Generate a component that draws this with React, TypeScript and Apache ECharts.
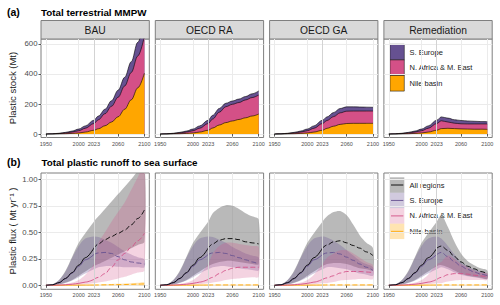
import React, { useEffect, useRef } from "react";
import * as echarts from "echarts";

const FONT = '"Liberation Sans", Arial, Helvetica, sans-serif';

const years = [1950, 1960, 1970, 1980, 1990, 2000, 2010, 2023, 2030, 2040, 2050, 2060, 2070, 2080, 2090, 2100];
const scenarios = ["BAU", "OECD RA", "OECD GA", "Remediation"];
const yearTicks = [1950, 2000, 2023, 2060, 2100];
const stockTicks = [0, 200, 400, 600];
const fluxTicks = [0, 0.25, 0.5, 0.75, 1.0];
const refYear = 2023;

// (a) terrestrial stock (Mt), thickness of each stacked layer, per scenario
const stockNile = [
  [0, 0.3, 1, 2, 4, 7, 13, 25, 35, 55, 80, 115, 165, 228, 308, 405],
  [0, 0.3, 1, 2, 4, 7, 13, 25, 40, 60, 76, 87, 97, 108, 120, 133],
  [0, 0.3, 1, 2, 4, 7, 13, 25, 38, 52, 64, 70, 71, 71, 71, 71],
  [0, 0.3, 1, 2, 4, 7, 13, 25, 36, 38, 36, 34, 33, 32, 32, 31],
];
const stockNAfrica = [
  [0, 0.7, 2, 5, 9, 15, 25, 45, 60, 80, 105, 130, 155, 182, 212, 245],
  [0, 0.7, 2, 5, 9, 15, 25, 45, 60, 85, 106, 111, 113, 119, 123, 127],
  [0, 0.7, 2, 5, 9, 15, 25, 45, 52, 64, 77, 82, 82, 82, 82, 82],
  [0, 0.7, 2, 5, 9, 15, 25, 45, 52, 42, 36, 34, 34, 35, 35, 36],
];
const stockSEurope = [
  [0, 0.5, 2, 4, 7, 11, 16, 22, 25, 30, 37, 47, 58, 72, 92, 100],
  [0, 0.5, 2, 4, 7, 11, 16, 22, 25, 25, 23, 22, 23, 23, 25, 27],
  [0, 0.5, 2, 4, 7, 11, 16, 22, 24, 27, 29, 29, 28, 27, 26, 25],
  [0, 0.5, 2, 4, 7, 11, 16, 22, 26, 26, 23, 22, 20, 18, 16, 15],
];

// (b) runoff flux (Mt/yr): historical part (1950-2023) + scenario part (2030-2100)
const allMeanHist = [0, 0.005, 0.025, 0.065, 0.12, 0.19, 0.26, 0.35];
const allHiHist = [0, 0.01, 0.05, 0.14, 0.27, 0.4, 0.49, 0.6];
const allLoHist = [0, 0, 0.008, 0.025, 0.05, 0.09, 0.13, 0.18];
const seuMeanHist = [0, 0.005, 0.024, 0.062, 0.115, 0.18, 0.24, 0.29];
const seuHiHist = [0, 0.01, 0.05, 0.13, 0.26, 0.37, 0.44, 0.46];
const seuLoHist = [0, 0, 0.007, 0.022, 0.045, 0.075, 0.11, 0.15];
const nameMeanHist = [0, 0, 0.002, 0.005, 0.01, 0.018, 0.03, 0.055];
const nameHiHist = [0, 0.001, 0.005, 0.012, 0.025, 0.05, 0.1, 0.2];
const nameLoHist = [0, 0, 0, 0.001, 0.003, 0.006, 0.01, 0.018];
const nileMeanHist = [0, 0, 0, 0.001, 0.001, 0.001, 0.002, 0.002];
const nileHiHist = [0, 0, 0.001, 0.002, 0.003, 0.004, 0.005, 0.007];
const nileLoHist = [0, 0, 0, 0, 0, 0, 0, 0];

const allMeanFut = [
  [0.39, 0.43, 0.46, 0.49, 0.52, 0.57, 0.63, 0.71],
  [0.39, 0.425, 0.44, 0.44, 0.43, 0.41, 0.4, 0.39],
  [0.38, 0.41, 0.42, 0.4, 0.375, 0.35, 0.315, 0.28],
  [0.37, 0.33, 0.27, 0.22, 0.18, 0.155, 0.13, 0.11],
];
const allHiFut = [
  [0.65, 0.72, 0.79, 0.86, 0.93, 1.0, 1.08, 1.16],
  [0.68, 0.73, 0.755, 0.75, 0.72, 0.68, 0.65, 0.62],
  [0.65, 0.69, 0.7, 0.66, 0.57, 0.47, 0.4, 0.35],
  [0.66, 0.55, 0.41, 0.3, 0.23, 0.19, 0.16, 0.14],
];
const allLoFut = [
  [0.2, 0.23, 0.26, 0.29, 0.32, 0.35, 0.38, 0.41],
  [0.2, 0.22, 0.23, 0.23, 0.22, 0.21, 0.2, 0.2],
  [0.2, 0.21, 0.21, 0.2, 0.18, 0.16, 0.15, 0.14],
  [0.19, 0.17, 0.14, 0.11, 0.09, 0.08, 0.07, 0.06],
];
const seuMeanFut = [
  [0.305, 0.31, 0.3, 0.27, 0.24, 0.22, 0.21, 0.2],
  [0.305, 0.31, 0.3, 0.28, 0.26, 0.24, 0.22, 0.2],
  [0.305, 0.31, 0.295, 0.265, 0.235, 0.2, 0.17, 0.14],
  [0.31, 0.27, 0.22, 0.18, 0.15, 0.125, 0.105, 0.09],
];
const seuHiFut = [
  [0.455, 0.43, 0.4, 0.36, 0.32, 0.29, 0.265, 0.245],
  [0.455, 0.43, 0.4, 0.36, 0.33, 0.3, 0.28, 0.26],
  [0.45, 0.42, 0.38, 0.33, 0.28, 0.23, 0.2, 0.17],
  [0.44, 0.37, 0.29, 0.22, 0.18, 0.15, 0.13, 0.11],
];
const seuLoFut = [
  [0.17, 0.18, 0.18, 0.175, 0.17, 0.17, 0.17, 0.17],
  [0.17, 0.18, 0.18, 0.17, 0.16, 0.15, 0.145, 0.14],
  [0.17, 0.17, 0.16, 0.15, 0.13, 0.11, 0.1, 0.09],
  [0.17, 0.15, 0.12, 0.1, 0.085, 0.075, 0.065, 0.06],
];
const nameMeanFut = [
  [0.075, 0.11, 0.17, 0.24, 0.3, 0.36, 0.42, 0.49],
  [0.075, 0.11, 0.14, 0.16, 0.17, 0.17, 0.17, 0.17],
  [0.07, 0.09, 0.115, 0.13, 0.13, 0.13, 0.125, 0.12],
  [0.075, 0.1, 0.11, 0.11, 0.105, 0.095, 0.088, 0.08],
];
const nameHiFut = [
  [0.4, 0.5, 0.6, 0.69, 0.78, 0.9, 1.02, 1.14],
  [0.3, 0.37, 0.4, 0.4, 0.39, 0.38, 0.37, 0.36],
  [0.26, 0.3, 0.33, 0.33, 0.3, 0.26, 0.22, 0.19],
  [0.22, 0.28, 0.25, 0.2, 0.17, 0.14, 0.12, 0.11],
];
const nameLoFut = [
  [0.025, 0.035, 0.05, 0.065, 0.08, 0.1, 0.12, 0.14],
  [0.025, 0.035, 0.05, 0.06, 0.065, 0.07, 0.075, 0.08],
  [0.02, 0.03, 0.045, 0.05, 0.055, 0.06, 0.06, 0.06],
  [0.02, 0.035, 0.045, 0.05, 0.05, 0.05, 0.05, 0.05],
];
const nileMeanFut = [
  [0.003, 0.004, 0.005, 0.006, 0.007, 0.009, 0.011, 0.013],
  [0.003, 0.003, 0.003, 0.003, 0.003, 0.003, 0.003, 0.003],
  [0.003, 0.003, 0.003, 0.003, 0.003, 0.003, 0.003, 0.003],
  [0.003, 0.003, 0.003, 0.003, 0.003, 0.003, 0.003, 0.003],
];
const nileHiFut = [
  [0.008, 0.01, 0.012, 0.014, 0.017, 0.02, 0.023, 0.027],
  [0.008, 0.008, 0.008, 0.008, 0.008, 0.008, 0.008, 0.008],
  [0.008, 0.008, 0.008, 0.008, 0.008, 0.008, 0.008, 0.008],
  [0.008, 0.008, 0.008, 0.008, 0.008, 0.008, 0.008, 0.008],
];
const nileLoFut = [
  [0, 0, 0, 0, 0, 0, 0, 0],
  [0, 0, 0, 0, 0, 0, 0, 0],
  [0, 0, 0, 0, 0, 0, 0, 0],
  [0, 0, 0, 0, 0, 0, 0, 0],
];

const C_NILE = "#ffa600";
const C_NAME = "#d45087";
const C_SEU = "#665191";

function join(hist: number[], fut: number[][]) {
  return fut.map((f) => hist.concat(f));
}

function bandSeries(ax: number, lo: number[], hi: number[], fill: string) {
  const data = years.map((y, i) => [y, lo[i], hi[i]]);
  return {
    type: "custom",
    xAxisIndex: ax,
    yAxisIndex: ax,
    silent: true,
    clip: true,
    encode: { x: 0, y: [1, 2] },
    data,
    renderItem: (params: any, api: any) => {
      if (params.dataIndex !== 0) return null;
      const up = data.map((d) => api.coord([d[0], d[2]]));
      const dn = data.map((d) => api.coord([d[0], d[1]])).reverse();
      return {
        type: "polygon",
        shape: { points: up.concat(dn), smooth: 0.3 },
        style: { fill, stroke: "none" },
      };
    },
  };
}

const refLine = {
  silent: true,
  symbol: "none",
  label: { show: false },
  lineStyle: { color: "#d3d3d3", width: 1, type: "solid" },
  data: [{ xAxis: refYear }],
};

function buildOption() {
  const grids: any[] = [];
  const xAxes: any[] = [];
  const yAxes: any[] = [];
  const series: any[] = [];
  const graphic: any[] = [];

  const PW = 108.3;
  const STEP = 114.3;
  const L0 = 41;

  for (let g = 0; g < 8; g++) {
    const row = Math.floor(g / 4);
    const col = g % 4;
    const left = L0 + col * STEP;
    grids.push({
      left,
      top: row ? 173 : 39,
      width: PW,
      height: row ? 116.3 : 98.5,
      show: true,
      borderColor: "#7f7f7f",
      borderWidth: 1,
      backgroundColor: "transparent",
    });
    xAxes.push({
      type: "value",
      gridIndex: g,
      min: 1942.5,
      max: 2107.5,
      axisLine: { show: false },
      axisTick: { show: true, customValues: yearTicks, length: 2.5, lineStyle: { color: "#333", width: 0.8 } },
      axisLabel: {
        customValues: yearTicks,
        fontSize: 5.5,
        color: "#4d4d4d",
        margin: 3,
        fontFamily: FONT,
        formatter: (v: number) => String(v),
      },
      splitLine: { show: true, lineStyle: { color: "#ebebeb", width: 1 } },
    });
    const ticks = row ? fluxTicks : stockTicks;
    yAxes.push({
      type: "value",
      gridIndex: g,
      min: row ? -0.038 : -23.3,
      max: row ? 1.059 : 633.3,
      axisLine: { show: false },
      axisTick: { show: col === 0, customValues: ticks, length: 2.5, lineStyle: { color: "#333", width: 0.8 } },
      axisLabel: {
        show: col === 0,
        customValues: ticks,
        fontSize: 7.8,
        color: "#4d4d4d",
        margin: 3.5,
        fontFamily: FONT,
        formatter: (v: number) => (row ? v.toFixed(2) : String(v)),
      },
      splitLine: { show: true, lineStyle: { color: "#ebebeb", width: 1 } },
    });
  }

  // (a) stacked areas: cumulative tops, drawn top layer first, each filled down to 0
  for (let s = 0; s < 4; s++) {
    const topNile = stockNile[s];
    const topName = topNile.map((v, i) => v + stockNAfrica[s][i]);
    const topSeu = topName.map((v, i) => v + stockSEurope[s][i]);
    const layers = [
      { name: "S. Europe", color: C_SEU, top: topSeu },
      { name: "N. Africa & M. East", color: C_NAME, top: topName },
      { name: "Nile basin", color: C_NILE, top: topNile },
    ];
    layers.forEach((ly, li) => {
      series.push({
        type: "line",
        name: ly.name,
        xAxisIndex: s,
        yAxisIndex: s,
        smooth: 0.35,
        smoothMonotone: "x",
        symbol: "none",
        silent: true,
        data: years.map((y, i) => [y, ly.top[i]]),
        lineStyle: { color: "#000", width: 0.6 },
        areaStyle: { color: ly.color, opacity: 1 },
        markLine: li === 2 ? refLine : undefined,
      });
    });
  }

  // (b) ribbons and lines
  const regions = [
    { name: "All regions", line: "#000000", fill: "rgba(127,127,127,0.55)", mean: join(allMeanHist, allMeanFut), hi: join(allHiHist, allHiFut), lo: join(allLoHist, allLoFut) },
    { name: "S. Europe", line: C_SEU, fill: "rgba(102,81,145,0.3)", mean: join(seuMeanHist, seuMeanFut), hi: join(seuHiHist, seuHiFut), lo: join(seuLoHist, seuLoFut) },
    { name: "N. Africa & M. East", line: C_NAME, fill: "rgba(212,80,135,0.25)", mean: join(nameMeanHist, nameMeanFut), hi: join(nameHiHist, nameHiFut), lo: join(nameLoHist, nameLoFut) },
    { name: "Nile basin", line: C_NILE, fill: "rgba(255,166,0,0.3)", mean: join(nileMeanHist, nileMeanFut), hi: join(nileHiHist, nileHiFut), lo: join(nileLoHist, nileLoFut) },
  ];
  for (let s = 0; s < 4; s++) {
    const ax = 4 + s;
    regions.forEach((r) => {
      series.push(bandSeries(ax, r.lo[s], r.hi[s], r.fill));
    });
    [...regions].reverse().forEach((r, k) => {
      const pts = years.map((y, i) => [y, r.mean[s][i]]);
      series.push({
        type: "line",
        xAxisIndex: ax,
        yAxisIndex: ax,
        smooth: 0.35,
        smoothMonotone: "x",
        symbol: "none",
        silent: true,
        data: pts.filter((p) => p[0] <= refYear),
        lineStyle: { color: r.line, width: 0.9 },
        markLine: k === 0 ? refLine : undefined,
      });
      series.push({
        type: "line",
        xAxisIndex: ax,
        yAxisIndex: ax,
        smooth: 0.35,
        smoothMonotone: "x",
        symbol: "none",
        silent: true,
        data: pts.filter((p) => p[0] >= refYear),
        lineStyle: { color: r.line, width: 0.9, type: [5, 2.5] },
      });
    });
  }

  // strips
  for (let c = 0; c < 4; c++) {
    const left = L0 + c * STEP;
    graphic.push({
      type: "rect",
      shape: { x: left, y: 20.5, width: PW, height: 18.5 },
      style: { fill: "#d9d9d9", stroke: "#7f7f7f", lineWidth: 1 },
    });
    graphic.push({
      type: "text",
      x: left + PW / 2,
      y: 30,
      style: { text: scenarios[c], fill: "#1a1a1a", font: `10.3px ${FONT}`, align: "center", verticalAlign: "middle" },
    });
  }

  // titles
  graphic.push({ type: "text", x: 7, y: 12, style: { text: "(a)", fill: "#000", font: `bold 10.5px ${FONT}`, verticalAlign: "middle" } });
  graphic.push({ type: "text", x: 41, y: 12, style: { text: "Total terrestrial MMPW", fill: "#000", font: `bold 9.8px ${FONT}`, verticalAlign: "middle" } });
  graphic.push({ type: "text", x: 7, y: 162, style: { text: "(b)", fill: "#000", font: `bold 10.5px ${FONT}`, verticalAlign: "middle" } });
  graphic.push({ type: "text", x: 41.5, y: 162, style: { text: "Total plastic runoff to sea surface", fill: "#000", font: `bold 9.8px ${FONT}`, verticalAlign: "middle" } });

  // y axis titles
  graphic.push({ type: "text", x: 12, y: 88, rotation: Math.PI / 2, style: { text: "Plastic stock (Mt)", fill: "#1a1a1a", font: `9.5px ${FONT}`, align: "center", verticalAlign: "middle" } });
  graphic.push({ type: "text", x: 12, y: 231, rotation: Math.PI / 2, style: { text: "Plastic flux ( Mt yr⁻¹ )", fill: "#1a1a1a", font: `9.5px ${FONT}`, align: "center", verticalAlign: "middle" } });

  // legend (a)
  const keyX = 390;
  const keyW = 14.3;
  const keyH = 15.6;
  graphic.push({ type: "rect", shape: { x: 388, y: 42, width: 94, height: 51 }, style: { fill: "#fff" } });
  const legA = [
    { name: "S. Europe", color: C_SEU },
    { name: "N. Africa & M. East", color: C_NAME },
    { name: "Nile basin", color: C_NILE },
  ];
  legA.forEach((e, i) => {
    const y = 44.3 + i * keyH;
    graphic.push({ type: "rect", shape: { x: keyX, y, width: keyW, height: keyH }, style: { fill: e.color, stroke: "#222", lineWidth: 0.6 } });
    graphic.push({ type: "text", x: 409.5, y: y + keyH / 2, style: { text: e.name, fill: "#1a1a1a", font: `7.5px ${FONT}`, verticalAlign: "middle" } });
  });

  // legend (b)
  graphic.push({ type: "rect", shape: { x: 388, y: 175, width: 94, height: 66 }, style: { fill: "#fff" } });
  regions.forEach((r, i) => {
    const y = 177.3 + i * 15.45;
    graphic.push({ type: "rect", shape: { x: keyX, y, width: keyW, height: 15.45 }, style: { fill: r.fill } });
    graphic.push({ type: "line", shape: { x1: keyX + 1, y1: y + 7.7, x2: keyX + keyW - 1, y2: y + 7.7 }, style: { stroke: r.line, lineWidth: 0.9 } });
    graphic.push({ type: "text", x: 409.5, y: y + 7.7, style: { text: r.name, fill: "#1a1a1a", font: `7.5px ${FONT}`, verticalAlign: "middle" } });
  });

  return {
    animation: false,
    backgroundColor: "#ffffff",
    textStyle: { fontFamily: FONT },
    grid: grids,
    xAxis: xAxes,
    yAxis: yAxes,
    series,
    graphic,
  };
}

export default function App() {
  const ref = useRef<HTMLDivElement>(null);
  useEffect(() => {
    const chart = echarts.init(ref.current!, null, { renderer: "svg" });
    chart.setOption(buildOption());
    return () => chart.dispose();
  }, []);
  return <div ref={ref} style={{ width: 500, height: 305, position: "absolute", left: 0, top: 0 }} />;
}
